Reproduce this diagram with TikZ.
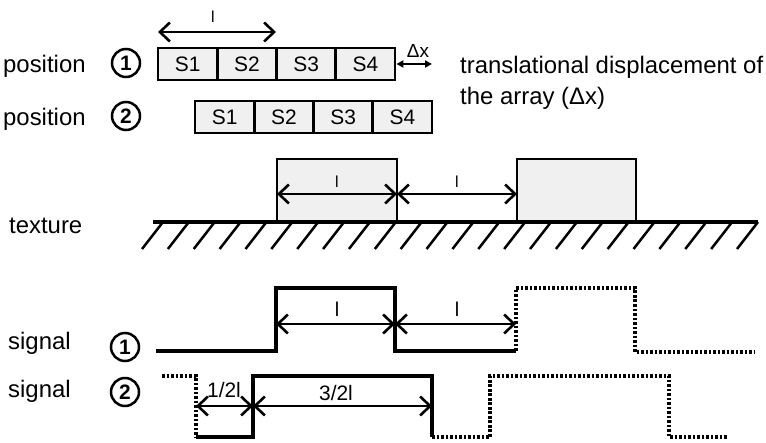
\documentclass[tikz,border=0pt]{standalone}
\usepackage{fontspec}
\setmainfont{Liberation Sans}
\usetikzlibrary{arrows.meta}
\newcommand\myfs[1]{\fontsize{#1}{#1}\selectfont}
\definecolor{cellgray}{gray}{0.94}
\begin{document}
\begin{tikzpicture}[x=1bp,y=-1bp,
  lbl/.style={anchor=base west,inner sep=0,font=\myfs{24}},
  txt/.style={anchor=base,inner sep=0},
  cell/.style={draw,line width=2.8bp,fill=cellgray,minimum width=59.25bp,minimum height=32bp,inner sep=0,font=\myfs{21}},
  tbox/.style={draw,line width=2.8bp,fill=cellgray,minimum height=63bp,inner sep=0},
  circ/.style={circle,draw,line width=2.5bp,minimum size=28bp,inner sep=0,font=\bfseries\myfs{21}},
  dim/.style={line width=2.6bp,{Straight Barb[length=10bp,width=19bp]}-{Straight Barb[length=10bp,width=19bp]}},
  dxarrow/.style={line width=2.2bp,{Triangle[length=7bp,width=7bp]}-{Triangle[length=7bp,width=7bp]}},
  sig/.style={line width=4bp},
  dots/.style={line width=3.5bp,dash pattern=on 2.6bp off 1.9bp},
]
\useasboundingbox (0,0) rectangle (766,443);

% left labels
\node[lbl] (pos1) at (3,72.5) {position};
\node[lbl] (pos2) at (3,126) {position};
\node[lbl] (tex) at (9,234) {texture};
\node[lbl] (sigl1) at (8,350) {signal};
\node[lbl] (sigl2) at (8,397) {signal};

% circled numbers
\node[circ] (c1) at (126,63) {1};
\node[circ] (c2) at (126,116) {2};
\node[circ] (c3) at (125,347) {1};
\node[circ] (c4) at (125,392) {2};

% sensor array, position 1
\node[cell] (a1) at (187.625,64) {S1};
\node[cell] (a2) at (246.875,64) {S2};
\node[cell] (a3) at (306.125,64) {S3};
\node[cell] (a4) at (365.375,64) {S4};
% sensor array, position 2
\node[cell] (b1) at (224.625,117) {S1};
\node[cell] (b2) at (283.875,117) {S2};
\node[cell] (b3) at (343.125,117) {S3};
\node[cell] (b4) at (402.375,117) {S4};

% top length arrow
\coordinate (t1) at (158,32);
\coordinate (t2) at (276,32);
\draw[dim] (t1) -- (t2);
\node[txt,font=\myfs{16}] (tl) at (213,23) {l};

% delta x arrow
\coordinate (dx) at (432,64);
\draw[dxarrow] (a4.east) -- (dx);
\node[txt,font=\myfs{19}] (dxl) at (418,58) {Δx};

% right text
\node[lbl] (tr1) at (460,73.3) {translational displacement of};
\node[lbl] (tr2) at (460,105) {the array (Δx)};

% texture
\node[tbox,minimum width=120bp] (tb1) at (337,190.5) {};
\node[tbox,minimum width=119bp] (tb2) at (576.5,190.5) {};
\coordinate (g1) at (153,222);
\coordinate (g2) at (758,222);
\draw[line width=3.5bp] (g1) -- (g2);
\foreach \k in {0,...,23} \draw[line width=2.5bp] ({163+25.87*\k},222) -- ++(-21,27);
\coordinate (ta) at (277,194);
\coordinate (tb) at (397,194);
\coordinate (tc) at (517,194);
\draw[dim] (ta) -- (tb);
\draw[dim] (tb) -- (tc);
\node[txt,font=\myfs{16}] (tl1) at (337,188) {l};
\node[txt,font=\myfs{16}] (tl2) at (457,188) {l};

% signal 1
\coordinate (p0) at (156,351);
\coordinate (p1) at (276,351);
\coordinate (p2) at (276,288);
\coordinate (p3) at (395,288);
\coordinate (p4) at (395,351);
\coordinate (p5) at (516,351);
\coordinate (p6) at (516,288);
\coordinate (p7) at (635,288);
\coordinate (p8) at (635,352);
\coordinate (p9) at (755,352);
\draw[sig] (p0) -- (p1) -- (p2) -- (p3) -- (p4) -- (p5);
\draw[dots] (p5) -- (p6) -- (p7) -- (p8) -- (p9);
\coordinate (sa) at (276,324);
\coordinate (sb) at (395,324);
\coordinate (sc) at (516,324);
\draw[dim] (sa) -- (sb);
\draw[dim] (sb) -- (sc);
\node[txt,font=\myfs{20}] (sl1) at (337,317) {l};
\node[txt,font=\myfs{20}] (sl2) at (457,317) {l};

% signal 2
\coordinate (q0) at (162,376);
\coordinate (q1) at (196,376);
\coordinate (q2) at (196,437);
\coordinate (q3) at (253,437);
\coordinate (q4) at (253,376);
\coordinate (q5) at (432,376);
\coordinate (q6) at (432,437);
\coordinate (q7) at (490,437);
\coordinate (q8) at (490,376);
\coordinate (q9) at (669,376);
\coordinate (q10) at (669,437);
\coordinate (q11) at (727,437);
\draw[dots] (q0) -- (q1) -- (q2);
\draw[sig] (q2) -- (q3) -- (q4) -- (q5) -- (q6);
\draw[dots] (q6) -- (q7) -- (q8) -- (q9) -- (q10) -- (q11);
\coordinate (ra) at (196,406);
\coordinate (rb) at (253,406);
\coordinate (rc) at (432,406);
\draw[dim] (ra) -- (rb);
\draw[dim] (rb) -- (rc);
\node[txt,font=\myfs{21}] (rl1) at (224,397) {1/2l};
\node[txt,font=\myfs{21}] (rl2) at (336,400) {3/2l};
\end{tikzpicture}
\end{document}
